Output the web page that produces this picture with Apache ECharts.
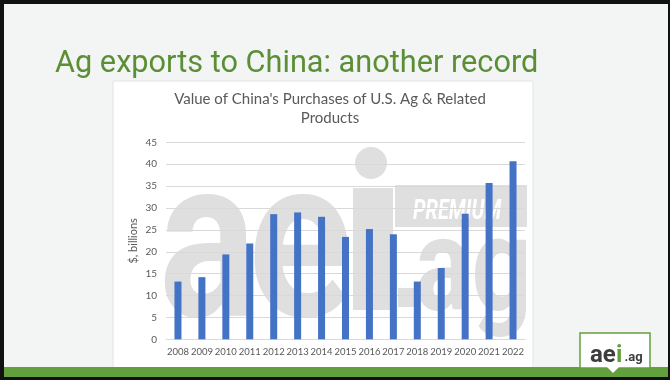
<!DOCTYPE html>
<html>
<head>
<meta charset="utf-8">
<script src="https://cdn.jsdelivr.net/npm/echarts@6/dist/echarts.min.js"></script>
<style>
  html, body { margin: 0; padding: 0; background: #f3f4f4; }
  #chart { width: 670px; height: 380px; }
</style>
</head>
<body>
<div id="chart"></div>
<script>
// China's purchases of U.S. agricultural & related products, $ billions
const years = ['2008','2009','2010','2011','2012','2013','2014','2015','2016','2017','2018','2019','2020','2021','2022'];
const purchases = [13.2, 14.2, 19.4, 21.9, 28.6, 29.0, 28.0, 23.4, 25.2, 24.0, 13.2, 16.3, 28.7, 35.7, 40.7];
const yTicks = { min: 0, max: 45, step: 5 };

const slideTitle = 'Ag exports to China: another record';
const chartTitle = "Value of China's Purchases of U.S. Ag & Related\nProducts";
const yName = '$, billions';

const GREEN = '#62a03e';
const MARK = '#dfdfdf';
const LABEL = '#595959';

// text elements are placed by their top edge; baseline sits ~0.724em below it
const topFor = (baseline, size) => baseline - 0.724 * size;

const chart = echarts.init(document.getElementById('chart'), null, { renderer: 'canvas' });

const decorations = [
  // white chart panel
  { type: 'rect', z: -5, shape: { x: 113, y: 81, width: 420, height: 287 },
    style: { fill: '#ffffff', stroke: '#e4e4e4', lineWidth: 1 } },
  // faded "aei.ag" watermark
  { type: 'text', z: -4, x: 159, y: topFor(310, 226), scaleX: 0.8,
    style: { text: 'a', fill: MARK, font: 'bold 226px Roboto' } },
  { type: 'text', z: -4, x: 248, y: topFor(310, 226), scaleX: 0.86,
    style: { text: 'e', fill: MARK, font: 'bold 226px Roboto' } },
  { type: 'rect', z: -4, shape: { x: 353, y: 188, width: 40, height: 122 }, style: { fill: MARK } },
  { type: 'circle', z: -4, shape: { cx: 371, cy: 163, r: 16 }, style: { fill: MARK } },
  { type: 'rect', z: -4, shape: { x: 395, y: 185, width: 132, height: 42 }, style: { fill: MARK } },
  { type: 'text', z: -3, x: 413, y: topFor(218, 27), scaleX: 0.74,
    style: { text: 'PREMIUM', fill: '#ffffff', font: 'italic bold 27px Roboto' } },
  { type: 'rect', z: -4, shape: { x: 398, y: 288, width: 16, height: 19 }, style: { fill: MARK } },
  { type: 'text', z: -4, x: 415, y: topFor(307, 132), scaleX: 0.8,
    style: { text: 'ag', fill: MARK, font: 'bold 132px Roboto' } },

  // slide heading
  { type: 'text', z: 5, x: 55, y: topFor(71, 30.7),
    style: { text: slideTitle, fill: '#5b8f36', font: '30.7px Roboto' } },

  // green footer band and frame
  { type: 'rect', z: 5, shape: { x: 0, y: 367, width: 670, height: 10 }, style: { fill: GREEN } },
  { type: 'rect', z: 6, shape: { x: 0, y: 0, width: 670, height: 4 }, style: { fill: '#111' } },
  { type: 'rect', z: 6, shape: { x: 0, y: 0, width: 4, height: 380 }, style: { fill: '#111' } },
  { type: 'rect', z: 6, shape: { x: 0, y: 377, width: 670, height: 3 }, style: { fill: '#111' } },
  { type: 'rect', z: 6, shape: { x: 668, y: 0, width: 2, height: 380 }, style: { fill: '#111' } },

  // logo badge
  { type: 'rect', z: 7, shape: { x: 580, y: 333, width: 70, height: 35 },
    style: { fill: '#ffffff', stroke: GREEN, lineWidth: 1.5 } },
  { type: 'polygon', z: 7, shape: { points: [[607, 367], [619, 367], [613, 373]] },
    style: { fill: '#ffffff' } },
  { type: 'text', z: 8, x: 590, y: topFor(361, 24),
    style: { text: 'ae', fill: '#3d3d3d', font: 'bold 24px Roboto' } },
  { type: 'text', z: 8, x: 616, y: topFor(361, 24),
    style: { text: 'i', fill: GREEN, font: 'bold 24px Roboto' } },
  { type: 'text', z: 8, x: 624.5, y: topFor(361, 13),
    style: { text: '.ag', fill: '#3d3d3d', font: 'bold 13px Roboto' } }
];

chart.setOption({
  backgroundColor: '#f3f4f4',
  animation: false,
  title: {
    text: chartTitle,
    left: 325,
    top: 85,
    textAlign: 'center',
    textStyle: { color: LABEL, fontFamily: 'Lato', fontWeight: 'normal', fontSize: 15, lineHeight: 19 }
  },
  grid: { left: 166, right: 145, top: 142.4, bottom: 40.7, containLabel: false },
  xAxis: {
    type: 'category',
    data: years,
    z: 1,
    axisLine: { show: true, lineStyle: { color: '#d9d9d9', width: 1 } },
    axisTick: { show: false },
    axisLabel: { color: LABEL, fontFamily: 'Lato', fontSize: 9.5, margin: 8, interval: 0 }
  },
  yAxis: {
    type: 'value',
    min: yTicks.min,
    max: yTicks.max,
    interval: yTicks.step,
    z: 1,
    name: yName,
    nameLocation: 'middle',
    nameGap: 27,
    nameMoveOverlap: false,
    nameTextStyle: { color: LABEL, fontFamily: 'Lato', fontSize: 11 },
    axisLine: { show: false },
    axisTick: { show: false },
    axisLabel: { color: LABEL, fontFamily: 'Lato', fontSize: 10, margin: 9 },
    splitLine: { lineStyle: { color: '#d9d9d9', width: 1 } }
  },
  series: [{
    type: 'bar',
    data: purchases,
    barWidth: 7,
    itemStyle: { color: '#4472c4' },
    z: 2
  }],
  graphic: { elements: decorations }
});
</script>
</body>
</html>
